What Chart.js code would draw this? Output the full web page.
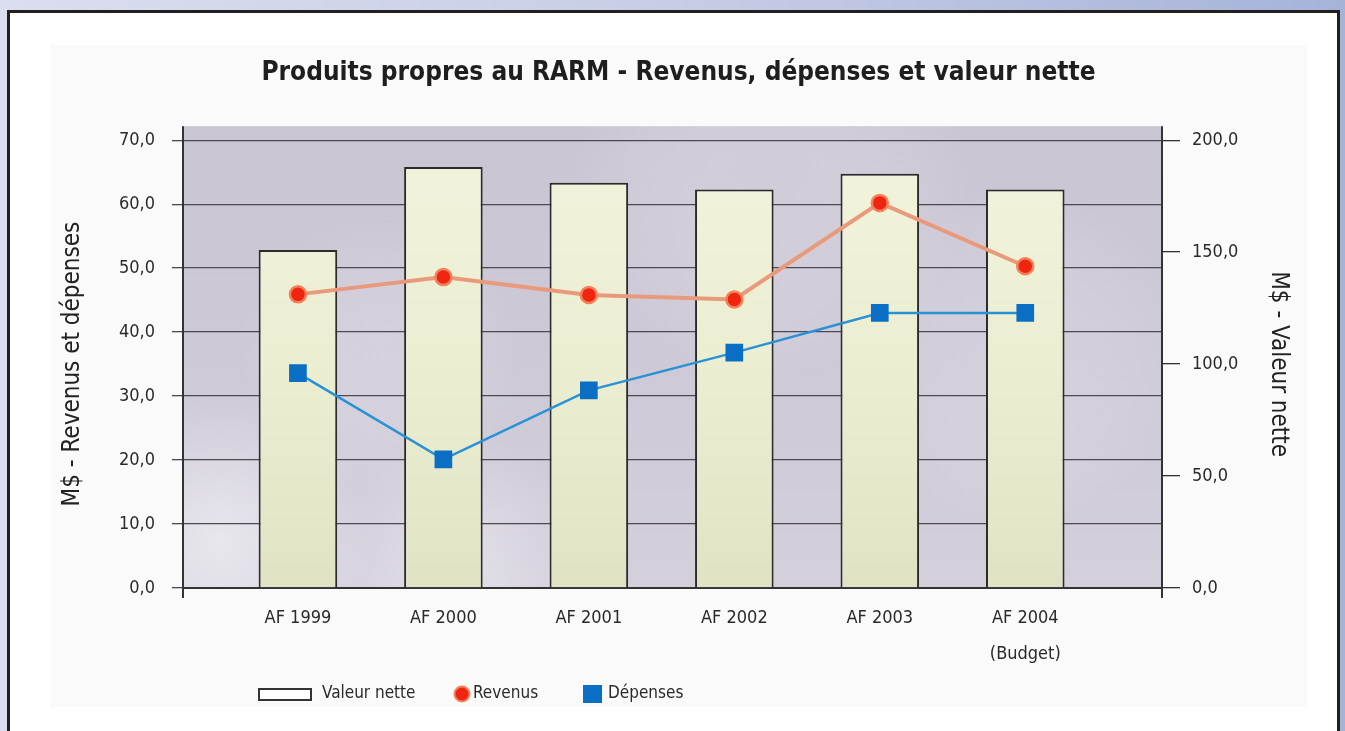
<!DOCTYPE html>
<html><head><meta charset="utf-8">
<script src="https://cdn.jsdelivr.net/npm/chart.js@4.4.1/dist/chart.umd.min.js"></script>
<style>
html,body{margin:0;padding:0;width:1345px;height:731px;overflow:hidden;}
body{background:linear-gradient(90deg,#dadeee 0%,#c6cde6 50%,#a6b3d8 100%);position:relative;}
#frame{position:absolute;left:7px;top:10px;width:1327px;height:740px;border:3px solid #231f20;background:#fff;}
#inner{position:absolute;left:50px;top:45px;width:1257px;height:662px;background:#fafafa;}
#c{position:absolute;left:0;top:0;}
</style></head><body>
<div id="frame"></div><div id="inner"></div>
<canvas id="c" width="1345" height="731"></canvas>
<script>
// ---- data ----
const tickLabels = ['AF 1999','AF 2000','AF 2001','AF 2002','AF 2003',['AF 2004','(Budget)']];
const valeurNette = [151, 188, 181, 178, 185, 178];   // right axis (M$)
const revenus = [45.9, 48.6, 45.8, 45.1, 60.2, 50.3];  // left axis (M$)
const depenses = [33.6, 20.1, 30.9, 36.8, 43.0, 43.0]; // left axis (M$)
const leftTicks = [0,10,20,30,40,50,60,70];
const rightTicks = [0,50,100,150,200];
const seriesNames = ['Valeur nette','Revenus','Dépenses'];
const titleText = 'Produits propres au RARM - Revenus, dépenses et valeur nette';
const leftTitle = 'M$ - Revenus et dépenses';
const rightTitle = 'M$ - Valeur nette';

const FONT = "'Liberation Sans Narrow','DejaVu Sans Condensed','Arial Narrow','Liberation Sans',sans-serif";
const fmt = v => Number(v).toFixed(1).replace('.', ',');

const plotBg = {
  id: 'plotBg',
  beforeDraw(chart) {
    const {ctx, chartArea: a} = chart;
    const top = a.top - 14;
    ctx.save();
    const g = ctx.createLinearGradient(0, top, 0, a.bottom);
    g.addColorStop(0, '#c9c5d2');
    g.addColorStop(0.5, '#cdc9d7');
    g.addColorStop(1, '#d3d0dc');
    ctx.fillStyle = g;
    ctx.fillRect(a.left, top, a.right - a.left, a.bottom - top);
    // soft cloud streaks
    const blobs = [[0.04,0.9,150,'rgba(255,255,255,0.5)'],[0.28,0.95,130,'rgba(255,255,255,0.35)'],[0.2,0.5,140,'rgba(230,228,236,0.3)'],[0.6,0.12,200,'rgba(218,215,225,0.35)'],[0.85,0.5,170,'rgba(222,219,229,0.3)']];
    ctx.beginPath(); ctx.rect(a.left, top, a.right - a.left, a.bottom - top); ctx.clip();
    for (const [fx, fy, r, c] of blobs) {
      const x = a.left + fx * (a.right - a.left), y = top + fy * (a.bottom - top);
      const rg = ctx.createRadialGradient(x, y, 0, x, y, r);
      rg.addColorStop(0, c); rg.addColorStop(1, 'rgba(255,255,255,0)');
      ctx.fillStyle = rg;
      ctx.fillRect(x - r, y - r, 2 * r, 2 * r);
    }
    ctx.restore();
    // axis line extensions
    ctx.save();
    ctx.strokeStyle = '#333'; ctx.lineWidth = 2;
    ctx.beginPath();
    ctx.moveTo(a.left, top); ctx.lineTo(a.left, a.bottom + 10);
    ctx.moveTo(a.right, top); ctx.lineTo(a.right, a.bottom + 10);
    ctx.stroke();
    ctx.restore();
  }
};

const customLegend = {
  id: 'customLegend',
  afterDraw(chart) {
    const ctx = chart.ctx;
    const ds = chart.data.datasets;
    const y = 694;
    ctx.save();
    ctx.font = '17px ' + FONT;
    ctx.textBaseline = 'middle';
    // bar item
    ctx.fillStyle = '#ffffff';
    ctx.fillRect(259, 689, 52, 11);
    ctx.strokeStyle = '#333'; ctx.lineWidth = 2;
    ctx.strokeRect(259, 689, 52, 11);
    ctx.fillStyle = '#2a2a2a';
    ctx.fillText(ds[0].label, 322, y);
    // revenus item
    ctx.beginPath(); ctx.arc(462, y, 7.5, 0, Math.PI * 2);
    ctx.fillStyle = ds[1].pointBackgroundColor; ctx.fill();
    ctx.lineWidth = 2; ctx.strokeStyle = ds[1].pointBorderColor; ctx.stroke();
    ctx.fillStyle = '#2a2a2a';
    ctx.fillText(ds[1].label, 473, y);
    // depenses item
    ctx.fillStyle = ds[2].pointBackgroundColor;
    ctx.fillRect(583, 685, 19, 18);
    ctx.fillStyle = '#2a2a2a';
    ctx.fillText(ds[2].label, 608, y);
    ctx.restore();
  }
};

const ctx = document.getElementById('c').getContext('2d');
const barGrad = ctx.createLinearGradient(0, 140, 0, 588);
barGrad.addColorStop(0, '#f1f3dd');
barGrad.addColorStop(0.5, '#eceed2');
barGrad.addColorStop(1, '#e0e3c3');

new Chart(ctx, {
  type: 'bar',
  data: {
    datasets: [
      {
        type: 'bar', label: seriesNames[0], yAxisID: 'y1', order: 3,
        data: valeurNette.map((v, i) => ({x: i, y: v})),
        backgroundColor: barGrad, borderColor: '#2b2b2b', borderWidth: 2,
        categoryPercentage: 1, barPercentage: 0.54
      },
      {
        type: 'line', label: seriesNames[1], yAxisID: 'y', order: 1,
        data: revenus.map((v, i) => ({x: i, y: v})),
        borderColor: '#e99a7c', borderWidth: 4,
        pointBackgroundColor: '#f0250f', pointBorderColor: '#f3825c',
        pointBorderWidth: 2.5, pointRadius: 8, tension: 0
      },
      {
        type: 'line', label: seriesNames[2], yAxisID: 'y', order: 2,
        data: depenses.map((v, i) => ({x: i, y: v})),
        borderColor: '#2a92d4', borderWidth: 2.5,
        pointStyle: 'rect', pointBackgroundColor: '#0a6fc4', pointBorderColor: '#0a6fc4',
        pointBorderWidth: 0, pointRadius: 12.5, tension: 0
      }
    ]
  },
  options: {
    responsive: false,
    animation: false,
    layout: {padding: {left: 50, right: 38, top: 45, bottom: 24}},
    plugins: {
      legend: {display: false},
      tooltip: {enabled: false},
      title: {
        display: true, text: titleText, color: '#1e1e1e',
        font: {family: FONT, size: 26, weight: 'bold', lineHeight: 1.2},
        padding: {top: 13, bottom: 51}
      }
    },
    scales: {
      x: {
        type: 'linear', min: -0.79, max: 5.94, offset: false,
        afterBuildTicks: s => { s.ticks = tickLabels.map((_, i) => ({value: i})); },
        afterFit: s => { s.height = 119; },
        ticks: {
          callback: v => tickLabels[v], autoSkip: false, maxRotation: 0, padding: 12,
          color: '#2a2a2a', font: {family: FONT, size: 18, lineHeight: 2}
        },
        grid: {display: false, drawTicks: false},
        border: {display: true, color: '#333', width: 2}
      },
      y: {
        position: 'left', min: 0, max: 70,
        afterBuildTicks: s => { s.ticks = leftTicks.map(v => ({value: v})); },
        afterFit: s => { s.width = 133; },
        ticks: {callback: fmt, padding: 17, color: '#2a2a2a', font: {family: FONT, size: 18}},
        grid: {color: '#4d4953', lineWidth: 1.3, tickLength: 11, drawTicks: true},
        border: {display: true, color: '#333', width: 2},
        title: {display: true, text: leftTitle, color: '#222', font: {family: FONT, size: 24}, padding: {top: 8, bottom: 0}}
      },
      y1: {
        position: 'right', min: 0, max: 200,
        afterBuildTicks: s => { s.ticks = rightTicks.map(v => ({value: v})); },
        afterFit: s => { s.width = 145; },
        ticks: {callback: fmt, padding: 12, color: '#2a2a2a', font: {family: FONT, size: 18}},
        grid: {drawOnChartArea: false, color: '#333', lineWidth: 1.3, tickLength: 18, drawTicks: true},
        border: {display: true, color: '#333', width: 2},
        title: {display: true, text: rightTitle, color: '#222', font: {family: FONT, size: 24}, padding: {top: 14, bottom: 0}}
      }
    }
  },
  plugins: [plotBg, customLegend]
});
</script>
</body></html>
